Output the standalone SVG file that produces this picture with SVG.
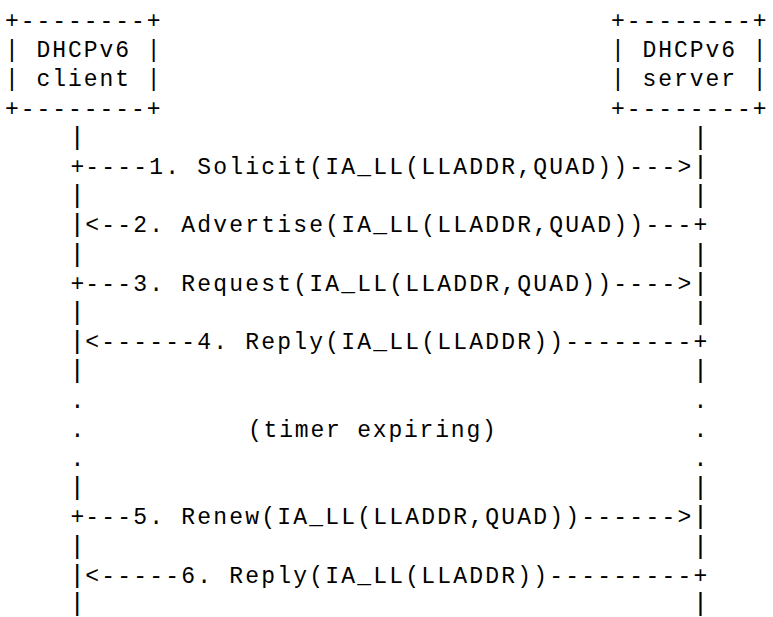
<svg xmlns="http://www.w3.org/2000/svg" width="773" height="617" viewBox="0 0 773 617">
<style>
text{font-family:"Liberation Mono","DejaVu Sans Mono",monospace;font-size:23px;fill:#000;white-space:pre}
.box{letter-spacing:1.95px}
.msg{letter-spacing:2.2px}
.ll{text-anchor:middle}
.ll .b{font-size:26.5px}
.tm{letter-spacing:1.8px}
</style>
<rect width="773" height="617" fill="#fff"/>
<g id="client">
<text class="box" x="5.1" y="28">+--------+</text>
<text class="box" x="5.1" y="57.2">| DHCPv6 |</text>
<text class="box" x="5.1" y="86.4">| client |</text>
<text class="box" x="5.1" y="115.6">+--------+</text>
</g>
<g id="server">
<text class="box" x="611.1" y="28">+--------+</text>
<text class="box" x="611.1" y="57.2">| DHCPv6 |</text>
<text class="box" x="611.1" y="86.4">| server |</text>
<text class="box" x="611.1" y="115.6">+--------+</text>
</g>
<g id="connectors">
<g id="client-lifeline" class="ll">
<text class="b" x="77.3" y="144.8">|</text>
<text x="77.3" y="174">+</text>
<text class="b" x="77.3" y="203.2">|</text>
<text class="b" x="77.3" y="232.4">|</text>
<text class="b" x="77.3" y="261.6">|</text>
<text x="77.3" y="290.8">+</text>
<text class="b" x="77.3" y="320">|</text>
<text class="b" x="77.3" y="349.2">|</text>
<text class="b" x="77.3" y="378.4">|</text>
<text x="77.3" y="407.6">.</text>
<text x="77.3" y="436.8">.</text>
<text x="77.3" y="466">.</text>
<text class="b" x="77.3" y="495.2">|</text>
<text x="77.3" y="524.4">+</text>
<text class="b" x="77.3" y="553.6">|</text>
<text class="b" x="77.3" y="582.8">|</text>
<text class="b" x="77.3" y="610.5">|</text>
</g>
<g id="server-lifeline" class="ll">
<text class="b" x="700.5" y="144.8">|</text>
<text class="b" x="700.5" y="174">|</text>
<text class="b" x="700.5" y="203.2">|</text>
<text x="700.5" y="232.4">+</text>
<text class="b" x="700.5" y="261.6">|</text>
<text class="b" x="700.5" y="290.8">|</text>
<text class="b" x="700.5" y="320">|</text>
<text x="700.5" y="349.2">+</text>
<text class="b" x="700.5" y="378.4">|</text>
<text x="700.5" y="407.6">.</text>
<text x="700.5" y="436.8">.</text>
<text x="700.5" y="466">.</text>
<text class="b" x="700.5" y="495.2">|</text>
<text class="b" x="700.5" y="524.4">|</text>
<text class="b" x="700.5" y="553.6">|</text>
<text x="700.5" y="582.8">+</text>
<text class="b" x="700.5" y="610.5">|</text>
</g>
<g id="messages">
<text class="msg" x="85.3" y="174">----1. Solicit(IA_LL(LLADDR,QUAD))---&gt;</text>
<text class="msg" x="85.3" y="232.4">&lt;--2. Advertise(IA_LL(LLADDR,QUAD))---</text>
<text class="msg" x="85.3" y="290.8">---3. Request(IA_LL(LLADDR,QUAD))----&gt;</text>
<text class="msg" x="85.3" y="349.2">&lt;------4. Reply(IA_LL(LLADDR))--------</text>
<text class="tm" x="248" y="436.8">(timer expiring)</text>
<text class="msg" x="85.3" y="524.4">---5. Renew(IA_LL(LLADDR,QUAD))------&gt;</text>
<text class="msg" x="85.3" y="582.8">&lt;-----6. Reply(IA_LL(LLADDR))---------</text>
</g>
</g>
</svg>
